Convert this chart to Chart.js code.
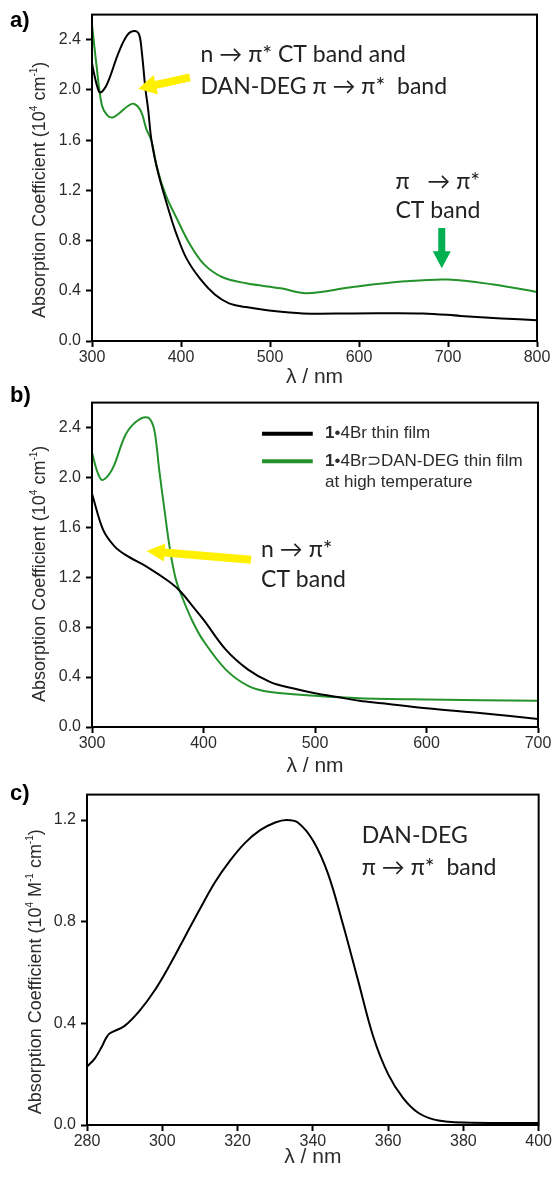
<!DOCTYPE html>
<html>
<head>
<meta charset="utf-8">
<title>Absorption spectra</title>
<script src="https://cdn.jsdelivr.net/npm/chart.js@4.4.1/dist/chart.umd.min.js"></script>
<style>
  html, body { margin: 0; padding: 0; background: #fff; }
  body { position: relative; width: 553px; height: 1179px; overflow: hidden; }
  canvas { position: absolute; left: 0; }
  .tag { position: absolute; left: 10px; font: bold 22px "Liberation Sans", Arial, sans-serif; color: #000; line-height: 26px; z-index: 2; }
</style>
</head>
<body>
<canvas id="chartA" width="553" height="388" style="top:0"></canvas>
<canvas id="chartB" width="553" height="392" style="top:388px"></canvas>
<canvas id="chartC" width="553" height="399" style="top:780px"></canvas>
<div class="tag" style="top:7px">a)</div>
<div class="tag" style="top:382px">b)</div>
<div class="tag" style="top:780px">c)</div>

<script>
// ---- spectra (absorption coefficient in 10^4 cm^-1, wavelength in nm) ----
const filmA_black_nm  = [300, 305, 309, 315, 320, 330, 340, 348, 353, 356, 360, 363, 367, 375, 388, 395, 406, 422, 438, 454, 473, 497, 537, 593, 672, 714, 760, 800];
const filmA_black_abs = [2.21, 2.05, 1.98, 2.02, 2.10, 2.30, 2.44, 2.47, 2.44, 2.30, 2.01, 1.85, 1.59, 1.32, 1.00, 0.85, 0.66, 0.49, 0.37, 0.30, 0.27, 0.245, 0.22, 0.22, 0.22, 0.20, 0.18, 0.165];

const filmA_green_nm  = [300, 305, 311, 317, 323, 330, 340, 347, 355, 361, 367, 373, 383, 395, 410, 426, 446, 473, 512, 541, 593, 652, 700, 751, 800];
const filmA_green_abs = [2.52, 2.20, 1.88, 1.80, 1.78, 1.81, 1.87, 1.89, 1.83, 1.69, 1.59, 1.38, 1.16, 0.98, 0.77, 0.61, 0.51, 0.46, 0.42, 0.38, 0.43, 0.475, 0.49, 0.45, 0.39];

const filmB_black_nm  = [300, 310, 320, 330, 350, 370, 380, 390, 400, 420, 440, 460, 480, 500, 520, 540, 560, 600, 650, 700];
const filmB_black_abs = [1.87, 1.58, 1.45, 1.38, 1.28, 1.16, 1.08, 0.97, 0.86, 0.62, 0.46, 0.36, 0.31, 0.27, 0.24, 0.21, 0.19, 0.15, 0.11, 0.065];

const filmB_green_nm  = [300, 305, 309, 315, 320, 330, 340, 350, 355, 358, 360, 365, 370, 375, 380, 390, 400, 420, 440, 460, 500, 540, 600, 700];
const filmB_green_abs = [2.20, 2.04, 1.98, 2.02, 2.10, 2.34, 2.45, 2.48, 2.41, 2.25, 2.08, 1.74, 1.42, 1.19, 1.06, 0.85, 0.69, 0.46, 0.33, 0.28, 0.25, 0.23, 0.22, 0.21];

// DAN-DEG solution, 10^4 M^-1 cm^-1
const danDeg_nm  = [280, 282, 284, 285, 286, 290, 294, 298, 302, 306, 310, 314, 318, 322, 326, 330, 333, 336, 340, 344, 348, 352, 356, 360, 364, 368, 372, 376, 380, 390, 400];
const danDeg_abs = [0.23, 0.26, 0.31, 0.34, 0.36, 0.39, 0.45, 0.53, 0.63, 0.74, 0.85, 0.955, 1.04, 1.11, 1.16, 1.19, 1.20, 1.19, 1.12, 0.99, 0.79, 0.57, 0.35, 0.20, 0.106, 0.048, 0.022, 0.013, 0.010, 0.008, 0.008];

const seriesLabels = ['1•4Br thin film', '1•4Br⊃DAN-DEG thin film at high temperature'];

const SANS = '"Liberation Sans", Arial, sans-serif';
const NOTE = 'Lato, "Open Sans", sans-serif';
const INK = '#2b2b2b';
const GREEN = '#23922a';
const YELLOW = '#fff000';
const ARROW_GREEN = '#00b050';

function pts(xs, ys) {
  return xs.map((x, i) => ({ x, y: ys[i] }));
}

function line(xs, ys, color) {
  return {
    data: pts(xs, ys),
    borderColor: color,
    borderWidth: 2,
    pointRadius: 0,
    fill: false,
    tension: 0.35,
  };
}

function drawArrow(ctx, x1, y1, x2, y2, a) {
  const ang = Math.atan2(y2 - y1, x2 - x1);
  const len = Math.hypot(x2 - x1, y2 - y1);
  ctx.save();
  ctx.translate(x1, y1);
  ctx.rotate(ang);
  ctx.beginPath();
  ctx.moveTo(0, -a.shaft / 2);
  ctx.lineTo(len - a.headLen, -a.shaft / 2);
  ctx.lineTo(len - a.headLen, -a.headW / 2);
  ctx.lineTo(len, 0);
  ctx.lineTo(len - a.headLen, a.headW / 2);
  ctx.lineTo(len - a.headLen, a.shaft / 2);
  ctx.lineTo(0, a.shaft / 2);
  ctx.closePath();
  ctx.fillStyle = a.color;
  ctx.fill();
  ctx.restore();
}

// box around the plot area
const frame = {
  id: 'frame',
  afterDatasetsDraw(chart) {
    const { ctx, chartArea: c } = chart;
    ctx.save();
    ctx.strokeStyle = '#000';
    ctx.lineWidth = 2;
    ctx.strokeRect(c.left, c.top, c.right - c.left, c.bottom - c.top);
    ctx.restore();
  },
};

// rotated y title with small superscripts
const yTitle = {
  id: 'yTitle',
  afterDraw(chart, args, opts) {
    if (!opts.parts) return;
    const { ctx, chartArea: c } = chart;
    const main = `18px ${SANS}`;
    const sup = `10px ${SANS}`;
    ctx.save();
    ctx.translate(opts.x, (c.top + c.bottom) / 2 + opts.shift);
    ctx.rotate(-Math.PI / 2);
    ctx.fillStyle = INK;
    ctx.textBaseline = 'middle';
    ctx.textAlign = 'left';
    let total = 0;
    opts.parts.forEach(p => { ctx.font = p.sup ? sup : main; total += ctx.measureText(p.t).width; });
    let x = -total / 2;
    opts.parts.forEach(p => {
      ctx.font = p.sup ? sup : main;
      ctx.fillText(p.t, x, p.sup ? -6 : 0);
      x += ctx.measureText(p.t).width;
    });
    ctx.restore();
  },
};

// text notes and block arrows, placed in data units
const notes = {
  id: 'notes',
  afterDraw(chart, args, opts) {
    const { ctx, scales: { x, y } } = chart;
    (opts.arrows || []).forEach(a => {
      drawArrow(ctx, x.getPixelForValue(a.from[0]), y.getPixelForValue(a.from[1]),
                x.getPixelForValue(a.to[0]), y.getPixelForValue(a.to[1]), a);
    });
    ctx.save();
    ctx.fillStyle = '#222';
    ctx.textBaseline = 'middle';
    ctx.textAlign = 'left';
    (opts.texts || []).forEach(t => {
      ctx.font = t.font;
      ctx.fillText(t.text, x.getPixelForValue(t.at[0]), y.getPixelForValue(t.at[1]));
    });
    ctx.restore();
  },
};

// legend drawn in the plot area of panel b
const keyBox = {
  id: 'keyBox',
  afterDraw(chart, args, opts) {
    if (!opts.rows) return;
    const { ctx, scales: { x, y } } = chart;
    const x0 = x.getPixelForValue(opts.lineFrom);
    const x1 = x.getPixelForValue(opts.lineTo);
    const tx = x.getPixelForValue(opts.textAt);
    ctx.save();
    ctx.textBaseline = 'middle';
    ctx.textAlign = 'left';
    ctx.fillStyle = INK;
    opts.rows.forEach(r => {
      const py = y.getPixelForValue(r.y);
      if (r.color) {
        ctx.strokeStyle = r.color;
        ctx.lineWidth = 4;
        ctx.beginPath();
        ctx.moveTo(x0, py);
        ctx.lineTo(x1, py);
        ctx.stroke();
      }
      let cx = tx;
      r.parts.forEach(p => {
        ctx.font = `${p.bold ? 'bold ' : ''}17px ${SANS}`;
        ctx.fillText(p.t, cx, py);
        cx += ctx.measureText(p.t).width;
      });
    });
    ctx.restore();
  },
};

function xAxis(min, max, step, height, titlePad) {
  return {
    type: 'linear', min, max,
    ticks: { stepSize: step, color: INK, font: { family: SANS, size: 16 }, padding: 1,
             maxRotation: 0, autoSkip: false, includeBounds: false, callback: v => String(v) },
    grid: { drawOnChartArea: false, drawTicks: true, tickLength: 6, tickWidth: 2, tickColor: '#000' },
    border: { color: '#000', width: 2 },
    title: { display: true, text: 'λ / nm', color: INK, font: { family: SANS, size: 21, lineHeight: 1 },
             padding: { top: 0, bottom: titlePad } },
    afterFit: s => { s.height = height; },
  };
}

function yAxis(max, width) {
  return {
    type: 'linear', min: 0, max,
    ticks: { stepSize: 0.4, color: INK, font: { family: SANS, size: 16 }, padding: 5,
             includeBounds: false, callback: v => v.toFixed(1) },
    grid: { drawOnChartArea: false, drawTicks: true, tickLength: 6, tickWidth: 2, tickColor: '#000' },
    border: { color: '#000', width: 2 },
    afterFit: s => { s.width = width; },
  };
}

const titleFilm = [
  { t: 'Absorption Coefficient (10' }, { t: '4', sup: true }, { t: ' cm' }, { t: '-1', sup: true }, { t: ')' },
];
const titleSoln = [
  { t: 'Absorption Coefficient (10' }, { t: '4', sup: true }, { t: ' M' }, { t: '-1', sup: true },
  { t: ' cm' }, { t: '-1', sup: true }, { t: ')' },
];

const noteFont = `23px ${NOTE}`;

function makeChart(id, datasets, scales, padding, plugins) {
  return new Chart(document.getElementById(id), {
    type: 'line',
    data: { datasets },
    options: {
      responsive: false,
      animation: false,
      layout: { padding },
      scales,
      plugins: Object.assign({ legend: { display: false }, tooltip: { enabled: false } }, plugins),
    },
    plugins: [frame, yTitle, notes, keyBox],
  });
}

// a) film before / after heating, 300-800 nm
makeChart('chartA',
  [line(filmA_black_nm, filmA_black_abs, '#000'), line(filmA_green_nm, filmA_green_abs, GREEN)],
  { x: xAxis(300, 800, 100, 47, 0), y: yAxis(2.6, 92) },
  { top: 12, right: 16, left: 0, bottom: 0 },
  {
    yTitle: { parts: titleFilm, x: 40, shift: 12 },
    notes: {
      arrows: [
        { from: [410, 2.10], to: [352, 2.01], shaft: 8, headW: 20, headLen: 18, color: YELLOW },
        { from: [693, 0.90], to: [693, 0.58], shaft: 7, headW: 18, headLen: 17, color: ARROW_GREEN },
      ],
      texts: [
        { text: 'n → π* CT band and', at: [422, 2.28], font: noteFont },
        { text: 'DAN-DEG π → π*  band', at: [422, 2.03], font: noteFont },
        { text: 'π   → π*', at: [641, 1.27], font: noteFont },
        { text: 'CT band', at: [641, 1.04], font: noteFont },
      ],
    },
  });

// b) film spectra with legend, 300-700 nm
makeChart('chartB',
  [line(filmB_black_nm, filmB_black_abs, '#000'), line(filmB_green_nm, filmB_green_abs, GREEN)],
  { x: xAxis(300, 700, 100, 53, 3), y: yAxis(2.6, 92) },
  { top: 8, right: 15, left: 0, bottom: 0 },
  {
    yTitle: { parts: titleFilm, x: 40, shift: 9 },
    keyBox: {
      lineFrom: 452.5, lineTo: 498, textAt: 509,
      rows: [
        { y: 2.35, color: '#000', parts: [{ t: '1', bold: true }, { t: seriesLabels[0].slice(1) }] },
        { y: 2.13, color: GREEN, parts: [{ t: '1', bold: true }, { t: '•4Br⊃DAN-DEG thin film' }] },
        { y: 1.96, parts: [{ t: 'at high temperature' }] },
      ],
    },
    notes: {
      arrows: [
        { from: [442.6, 1.34], to: [349, 1.41], shaft: 8, headW: 18, headLen: 18, color: YELLOW },
      ],
      texts: [
        { text: 'n → π*', at: [451.6, 1.42], font: noteFont },
        { text: 'CT band', at: [451.6, 1.18], font: noteFont },
      ],
    },
  });

// c) DAN-DEG in solution, 280-400 nm
makeChart('chartC',
  [line(danDeg_nm, danDeg_abs, '#000')],
  { x: xAxis(280, 400, 20, 54, 11), y: yAxis(1.3, 87) },
  { top: 12, right: 12, left: 0, bottom: 0 },
  {
    yTitle: { parts: titleSoln, x: 36, shift: 12 },
    notes: {
      texts: [
        { text: 'DAN-DEG', at: [353, 1.137], font: noteFont },
        { text: 'π → π*  band', at: [353, 1.012], font: noteFont },
      ],
    },
  });
</script>
</body>
</html>
